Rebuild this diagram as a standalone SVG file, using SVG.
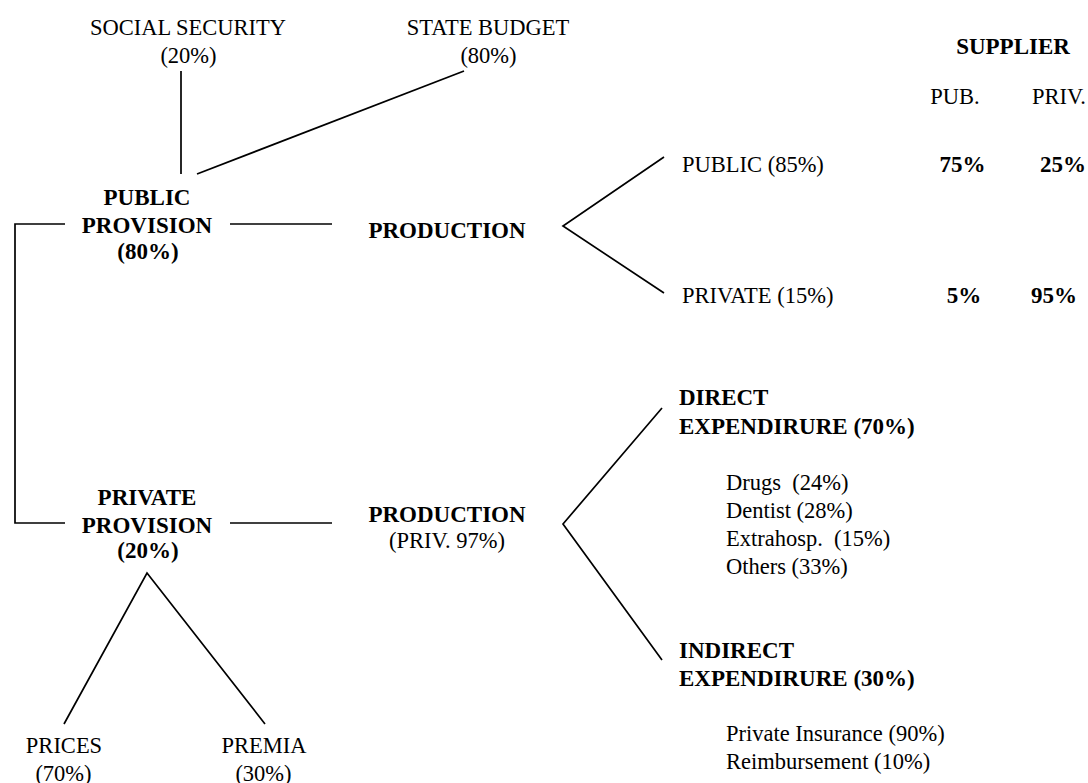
<svg xmlns="http://www.w3.org/2000/svg" width="1088" height="783" viewBox="0 0 1088 783">
<style>
text{font-family:'Liberation Serif','Times New Roman','DejaVu Serif',serif;font-size:22.5px;fill:#000}
.b{font-weight:bold;font-size:23px}
.m{text-anchor:middle}
.ln{fill:none;stroke:#000;stroke-width:1.7}
</style>
<rect width="1088" height="783" fill="#fff"/>
<g id="connectors">
<line class="ln" x1="181" y1="71" x2="181" y2="174"/>
<line class="ln" x1="197" y1="174" x2="464" y2="71"/>
<polyline class="ln" points="65,224 15,224 15,523 65,523"/>
<line class="ln" x1="230" y1="224" x2="332" y2="224"/>
<line class="ln" x1="230" y1="523" x2="332" y2="523"/>
<polyline class="ln" points="664,157 563,226 664,293"/>
<polyline class="ln" points="662,408 563,524 662,660"/>
<polyline class="ln" points="64,724 147,573 265,724"/>
</g>
<g id="social-security"><text class="m" x="188" y="35">SOCIAL SECURITY</text><text class="m" x="188.5" y="63">(20%)</text></g>
<g id="state-budget"><text class="m" x="488" y="35">STATE BUDGET</text><text class="m" x="488.5" y="63">(80%)</text></g>
<g id="supplier"><text class="m b" x="1013" y="54">SUPPLIER</text><text class="m" x="955" y="104">PUB.</text><text class="m" x="1059" y="104">PRIV.</text></g>
<g id="public-provision"><text class="m b" x="147" y="205">PUBLIC</text><text class="m b" x="147" y="233">PROVISION</text><text class="m b" x="148" y="259">(80%)</text></g>
<g id="production-public"><text class="m b" x="447" y="238">PRODUCTION</text></g>
<g id="public-85"><text x="682" y="172">PUBLIC (85%)</text><text class="m b" x="962.5" y="172">75%</text><text class="m b" x="1063" y="172">25%</text></g>
<g id="private-15"><text x="682" y="303">PRIVATE (15%)</text><text class="m b" x="964" y="303">5%</text><text class="m b" x="1054" y="303">95%</text></g>
<g id="private-provision"><text class="m b" x="147" y="505">PRIVATE</text><text class="m b" x="147" y="533">PROVISION</text><text class="m b" x="148" y="558">(20%)</text></g>
<g id="production-private"><text class="m b" x="447" y="522">PRODUCTION</text><text class="m" x="447" y="548">(PRIV. 97%)</text></g>
<g id="direct"><text class="b" x="679" y="405">DIRECT</text><text class="b" x="679" y="434">EXPENDIRURE (70%)</text>
<text x="726" y="490" xml:space="preserve">Drugs  (24%)</text><text x="726" y="518">Dentist (28%)</text><text x="726" y="546" xml:space="preserve">Extrahosp.  (15%)</text><text x="726" y="574">Others (33%)</text></g>
<g id="indirect"><text class="b" x="679" y="658">INDIRECT</text><text class="b" x="679" y="686">EXPENDIRURE (30%)</text>
<text x="726" y="741">Private Insurance (90%)</text><text x="726" y="769">Reimbursement (10%)</text></g>
<g id="prices"><text class="m" x="64" y="753">PRICES</text><text class="m" x="63.5" y="781">(70%)</text></g>
<g id="premia"><text class="m" x="264" y="753">PREMIA</text><text class="m" x="263.5" y="781">(30%)</text></g>
</svg>
